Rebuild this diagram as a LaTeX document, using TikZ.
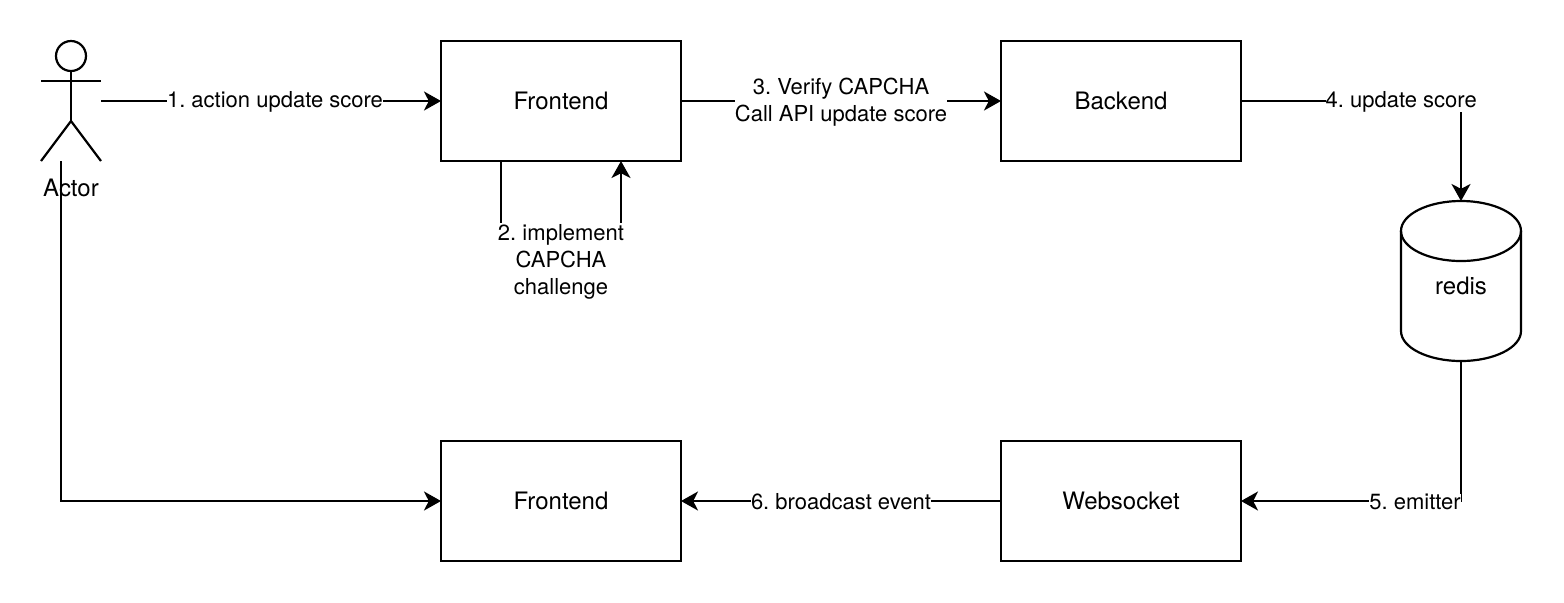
\documentclass[tikz,border=0pt]{standalone}
\usepackage{fontspec}
\setmainfont{TeX Gyre Heros}
\usetikzlibrary{positioning, arrows.meta}

\begin{document}
\frenchspacing
\begin{tikzpicture}[
    every node/.style={font=\fontsize{12}{13.5}\selectfont},
    comp/.style={draw, line width=1.1pt, align=center, outer sep=0pt,
                 minimum height=60pt, minimum width=120pt},
    figure/.style={outer sep=0pt, inner sep=0pt,
                   minimum height=60pt, minimum width=30pt},
    store/.style={outer sep=0pt, inner sep=0pt,
                  minimum height=80pt, minimum width=60pt},
    link/.style={-{Stealth[length=8.5pt, width=9.5pt, inset=2.4pt]}, line width=1.1pt},
    plain/.style={line width=1.1pt},
    lbl/.style={fill=white, align=center, inner sep=0pt, yshift=-0.5pt,
                font=\fontsize{11}{13.5}\selectfont},
  ]
    \useasboundingbox (0pt,0pt) rectangle (782pt,-301pt);

    \node[figure] (actor) at (35.5pt,-50.5pt) {};
    \node[comp, right=170pt of actor] (front) {Frontend};
    \node[comp, right=160pt of front] (back) {Backend};
    \node[store, below right=20pt and 110pt of back.south east, anchor=north,
          label={[yshift=-2.5pt]center:redis}] (redis) {};
    \node[comp, below=140pt of back] (ws) {Websocket};
    \node[comp, below=140pt of front] (front2) {Frontend};
    \node[below=9pt of actor, inner sep=0pt] (actorlbl) {Actor};

    % stick figure
    \draw[plain] ([yshift=-7.5pt]actor.north) circle (7.5pt);
    \draw[plain] ([yshift=-15pt]actor.north) -- ([yshift=20pt]actor.south);
    \draw[plain] ([yshift=-20pt]actor.north west) -- ([yshift=-20pt]actor.north east);
    \draw[plain] (actor.south west) -- ([yshift=20pt]actor.south) -- (actor.south east);

    % redis cylinder
    \draw[plain] ([yshift=-15pt]redis.north west) arc[start angle=180, end angle=0, x radius=30pt, y radius=15pt]
      -- ([yshift=15pt]redis.south east) arc[start angle=0, end angle=-180, x radius=30pt, y radius=15pt] -- cycle;
    \draw[plain] ([yshift=-15pt]redis.north west) arc[start angle=180, end angle=360, x radius=30pt, y radius=15pt];

    % update path
    \draw[link] (actor.east) -- node[lbl, xshift=2pt]{1. action update score} (front.west);
    \draw[link] ([xshift=-30pt]front.south) -- ++(0,-50pt)
      -- node[lbl, inner ysep=1pt]{2. implement\\ CAPCHA\\ challenge} ++(60pt,0) -- ([xshift=30pt]front.south);
    \draw[link] (front.east) -- node[lbl]{3. Verify CAPCHA\\ Call API update score} (back.west);
    \draw[link] (back.east) -| node[lbl, pos=0.364]{4. update score} (redis.north);

    % broadcast path
    \draw[link] (redis.south) |- node[lbl, pos=0.6045]{5. emitter} (ws.east);
    \draw[link] (ws.west) -- node[lbl]{6. broadcast event} (front2.east);
    \draw[link] ([xshift=-5pt]actor.south) |- (front2.west);
  \end{tikzpicture}
\end{document}
